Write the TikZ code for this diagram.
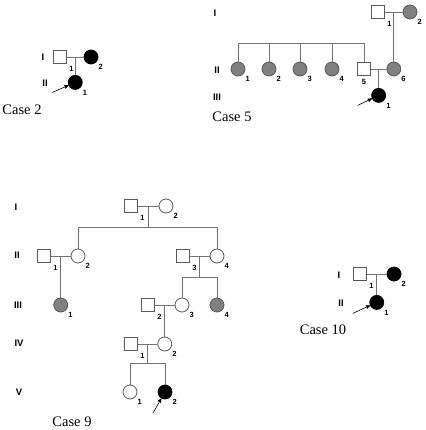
\documentclass[tikz,border=0pt]{standalone}
\usepackage{fontspec}
\setmainfont{Liberation Serif}
\setsansfont{Liberation Sans}
\usetikzlibrary{arrows,positioning,calc}
\newcommand*{\GenFont}{\sffamily\bfseries\fontsize{9.5}{9.5}\selectfont}
\newcommand*{\IdxFont}{\sffamily\bfseries\fontsize{7.5}{7.5}\selectfont}

\begin{document}
\begin{tikzpicture}[x=1pt,y=-1pt,>=stealth',
  line/.style={draw=black!55,line width=0.8pt},
  male/.style={draw=black!65,line width=0.8pt,fill=white,rectangle,minimum size=13pt,inner sep=0pt},
  female/.style={draw=black!65,line width=0.8pt,fill=white,circle,minimum size=14pt,inner sep=0pt},
  aff/.style={fill=black,draw=black},
  car/.style={fill=black!50},
  idx/.style={font=\IdxFont,inner sep=0.5pt,label distance=2.5pt},
  gen/.style={font=\GenFont,inner sep=0pt},
  case/.style={font=\fontsize{14.5}{14.5}\selectfont,inner sep=0pt},
  proband/.style={->,line width=0.6pt}]
\useasboundingbox (0,0) rectangle (425,430);

% Case 2
\node[gen] (c2g1) at (43,57) {I};
\node[gen] (c2g2) at (45,83) {II};
\node[male,label={[idx]-45:1}] (c2i1) at (60,57) {};
\node[female,aff,label={[idx]-45:2}] (c2i2) at (91,57) {};
\draw[line] (c2i1) -- (c2i2);
\coordinate (c2m) at ($(c2i1.east)!0.5!(c2i2.west)$);
\node[female,aff,label={[idx]-45:1},below=18pt of c2m] (c2ii1) {};
\draw[line] (c2m) -- (c2ii1);
\coordinate (c2p) at ($(c2ii1)+(-23,10)$);
\draw[proband] (c2p) -- (c2ii1);
\node[case] (c2t) at (22,110) {Case 2};

% Case 5
\node[gen] (c5g1) at (215,13) {I};
\node[gen] (c5g2) at (217,70) {II};
\node[gen] (c5g3) at (217,97) {III};
\node[male,label={[idx]-45:1}] (c5i1) at (378,12) {};
\node[female,car,label={[idx]-45:2}] (c5i2) at (410,12) {};
\draw[line] (c5i1) -- (c5i2);
\coordinate (c5m1) at ($(c5i1.east)!0.5!(c5i2.west)$);
\node[female,car,label={[idx]-45:6}] (c5ii6) at (c5m1 |- 0,69) {};
\draw[line] (c5m1) -- (c5ii6);
\coordinate (c5top) at (0,43);
\foreach \n/\x in {1/238,2/269,3/300,4/332}
  \node[female,car,label={[idx]-45:\n}] (c5ii\n) at (\x,69) {};
\node[male,label={[idx]below:5}] (c5ii5) at (364,69) {};
\draw[line] (c5ii1 |- c5top) -- (c5ii5 |- c5top);
\foreach \n in {1,...,5}
  \draw[line] (c5ii\n |- c5top) -- (c5ii\n);
\draw[line] (c5ii5) -- (c5ii6);
\coordinate (c5m2) at ($(c5ii5.east)!0.5!(c5ii6.west)$);
\node[female,aff,label={[idx]-45:1},below=19pt of c5m2] (c5iii1) {};
\draw[line] (c5m2) -- (c5iii1);
\coordinate (c5p) at ($(c5iii1)+(-21,10)$);
\draw[proband] (c5p) -- (c5iii1);
\node[case] (c5t) at (232,117) {Case 5};

% Case 9
\node[gen] (c9g1) at (16,207) {I};
\node[gen] (c9g2) at (17,255) {II};
\node[gen] (c9g3) at (18,305) {III};
\node[gen] (c9g4) at (19,343) {IV};
\node[gen] (c9g5) at (19,392) {V};
\node[male,label={[idx]-45:1}] (c9i1) at (131,206) {};
\node[female,label={[idx]-45:2}] (c9i2) at (166,206) {};
\draw[line] (c9i1) -- (c9i2);
\coordinate (c9m1) at ($(c9i1.east)!0.5!(c9i2.west)$);
\coordinate (c9s1) at (c9m1 |- 0,227);
\node[male,label={[idx]-45:1}] (c9ii1) at (44,256) {};
\node[female,label={[idx]-45:2}] (c9ii2) at (78,256) {};
\node[male,label={[idx]-45:3}] (c9ii3) at (183,256) {};
\node[female,label={[idx]-45:4}] (c9ii4) at (217,256) {};
\draw[line] (c9m1) -- (c9s1);
\draw[line] (c9s1 -| c9ii2) -- (c9s1 -| c9ii4);
\draw[line] (c9s1 -| c9ii2) -- (c9ii2);
\draw[line] (c9s1 -| c9ii4) -- (c9ii4);
\draw[line] (c9ii1) -- (c9ii2);
\draw[line] (c9ii3) -- (c9ii4);
\coordinate (c9m2) at ($(c9ii1.east)!0.5!(c9ii2.west)$);
\coordinate (c9m3) at ($(c9ii3.east)!0.5!(c9ii4.west)$);
\coordinate (c9s3) at (c9m3 |- 0,277);
\node[female,car,label={[idx]-45:1}] (c9iii1) at (c9m2 |- 0,305) {};
\node[male,label={[idx]-45:2}] (c9iii2) at (148,305) {};
\node[female,label={[idx]-45:3}] (c9iii3) at (182,305) {};
\node[female,car,label={[idx]-45:4}] (c9iii4) at (217,305) {};
\draw[line] (c9m2) -- (c9iii1);
\draw[line] (c9m3) -- (c9s3);
\draw[line] (c9s3 -| c9iii3) -- (c9s3 -| c9iii4);
\draw[line] (c9s3 -| c9iii3) -- (c9iii3);
\draw[line] (c9s3 -| c9iii4) -- (c9iii4);
\draw[line] (c9iii2) -- (c9iii3);
\coordinate (c9m4) at ($(c9iii2.east)!0.5!(c9iii3.west)$);
\node[female,label={[idx]-45:2}] (c9iv2) at (c9m4 |- 0,344) {};
\node[male,label={[idx]-45:1}] (c9iv1) at (131,344) {};
\draw[line] (c9m4) -- (c9iv2);
\draw[line] (c9iv1) -- (c9iv2);
\coordinate (c9m5) at ($(c9iv1.east)!0.5!(c9iv2.west)$);
\coordinate (c9s5) at (c9m5 |- 0,363);
\node[female,label={[idx]-45:1}] (c9v1) at (130,392) {};
\node[female,aff,label={[idx]-45:2}] (c9v2) at (165,392) {};
\draw[line] (c9m5) -- (c9s5);
\draw[line] (c9s5 -| c9v1) -- (c9s5 -| c9v2);
\draw[line] (c9s5 -| c9v1) -- (c9v1);
\draw[line] (c9s5 -| c9v2) -- (c9v2);
\coordinate (c9p) at ($(c9v2)+(-12,21)$);
\draw[proband] (c9p) -- (c9v2);
\node[case] (c9t) at (72,422) {Case 9};

% Case 10
\node[gen] (c10g1) at (339,275) {I};
\node[gen] (c10g2) at (341,303) {II};
\node[male,label={[idx]-45:1}] (c10i1) at (360,274) {};
\node[female,aff,label={[idx]-45:2}] (c10i2) at (394,274) {};
\draw[line] (c10i1) -- (c10i2);
\coordinate (c10m) at ($(c10i1.east)!0.5!(c10i2.west)$);
\node[female,aff,label={[idx]-45:1},below=21pt of c10m] (c10ii1) {};
\draw[line] (c10m) -- (c10ii1);
\coordinate (c10p) at ($(c10ii1)+(-24,11)$);
\draw[proband] (c10p) -- (c10ii1);
\node[case] (c10t) at (323,330) {Case 10};
\end{tikzpicture}
\end{document}
